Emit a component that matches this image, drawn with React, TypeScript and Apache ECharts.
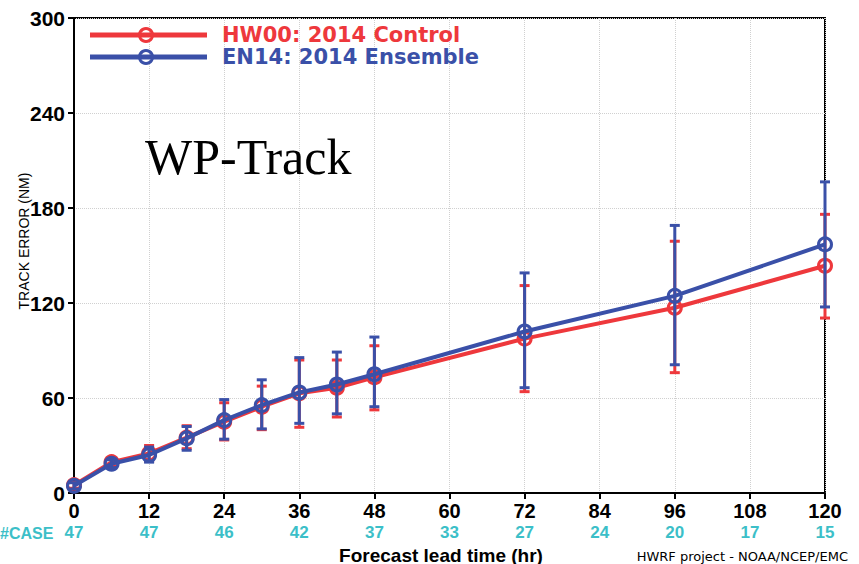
import React, { useEffect, useRef } from "react";
import * as echarts from "echarts";

const leadTimes = [0, 6, 12, 18, 24, 30, 36, 42, 48, 72, 96, 120];
const hw00Mean = [5, 19.5, 25, 35, 45, 54.5, 63, 66.5, 73, 97.5, 117, 143.5];
const hw00Low = [3, 17, 20, 28, 33.5, 40, 41.5, 48, 52.5, 64, 76, 110.5];
const hw00High = [7, 22, 30, 42.5, 57, 67.5, 84, 84, 93, 131, 159, 176];
const en14Mean = [4.5, 18.5, 24, 34.5, 46, 55.5, 63.5, 68.5, 75, 102, 124.5, 157];
const en14Low = [2.5, 16, 19.5, 27, 34, 40.5, 44, 50, 54.5, 66.5, 81, 117.5];
const en14High = [6.5, 21, 29, 42, 59, 71.5, 85.5, 89, 98.5, 139, 169, 196.5];
const caseTicks = [0, 12, 24, 36, 48, 60, 72, 84, 96, 108, 120];
const caseCounts = [47, 47, 46, 42, 37, 33, 27, 24, 20, 17, 15];
const seriesNames = ["HW00: 2014 Control", "EN14: 2014 Ensemble"];

const RED = "#ee383c";
const BLUE = "#3a50a8";
const CYAN = "#3cbfc8";
const SANS = "Liberation Sans, Arial, sans-serif";

function errorSeries(name: string, low: number[], high: number[], color: string, z: number) {
  return {
    type: "custom",
    name,
    z,
    xAxisIndex: 0,
    yAxisIndex: 0,
    data: leadTimes.map((t, i) => [t, low[i], high[i]]),
    encode: { x: 0, y: [1, 2] },
    renderItem: (params: any, api: any) => {
      const x = api.value(0);
      const top = api.coord([x, api.value(2)]);
      const bot = api.coord([x, api.value(1)]);
      const hw = 5;
      const st = { stroke: color, lineWidth: 3 };
      return {
        type: "group",
        children: [
          { type: "line", shape: { x1: top[0], y1: top[1], x2: bot[0], y2: bot[1] }, style: st },
          { type: "line", shape: { x1: top[0] - hw, y1: top[1], x2: top[0] + hw, y2: top[1] }, style: st },
          { type: "line", shape: { x1: bot[0] - hw, y1: bot[1], x2: bot[0] + hw, y2: bot[1] }, style: st },
        ],
      };
    },
  };
}

function lineSeries(name: string, mean: number[], color: string, z: number) {
  return {
    type: "line",
    name,
    z,
    xAxisIndex: 0,
    yAxisIndex: 0,
    data: leadTimes.map((t, i) => [t, mean[i]]),
    symbol: "circle",
    symbolSize: 13,
    showAllSymbol: true,
    lineStyle: { color, width: 4 },
    itemStyle: { color: "rgba(0,0,0,0)", borderColor: color, borderWidth: 3 },
  };
}

export default function App() {
  const ref = useRef<HTMLDivElement>(null);
  useEffect(() => {
    if (!ref.current) return;
    const chart = echarts.init(ref.current, null, { renderer: "svg" });
    const legendItem = (y: number, color: string, label: string) => [
      { type: "line", shape: { x1: 90, y1: y, x2: 207, y2: y }, style: { stroke: color, lineWidth: 5 }, z: 10 },
      { type: "circle", shape: { cx: 146, cy: y, r: 6.5 }, style: { fill: "rgba(0,0,0,0)", stroke: color, lineWidth: 3 }, z: 11 },
      {
        type: "text",
        x: 222,
        y,
        style: { text: label, fill: color, font: "bold 21px 'DejaVu Sans', sans-serif", verticalAlign: "middle" },
        z: 10,
      },
    ];
    chart.setOption({
      animation: false,
      backgroundColor: "#fff",
      grid: { left: 74, right: 34, top: 18, bottom: 71, show: true, borderColor: "#000", borderWidth: 2, backgroundColor: "transparent" },
      xAxis: [
        {
          type: "value",
          min: 0,
          max: 120,
          interval: 12,
          position: "bottom",
          axisLine: { show: true, onZero: false, lineStyle: { color: "#000", width: 2 } },
          axisTick: { show: true, length: 6, lineStyle: { color: "#000", width: 2 } },
          axisLabel: { color: "#000", fontFamily: SANS, fontWeight: "bold", fontSize: 20, margin: 8, showMinLabel: true, showMaxLabel: true },
          splitLine: { show: true, lineStyle: { color: "#d0d0d0", type: "dotted", width: 1 } },
        },
        {
          type: "value",
          min: 0,
          max: 120,
          interval: 12,
          position: "bottom",
          offset: 23,
          axisLine: { show: false },
          axisTick: { show: false },
          splitLine: { show: false },
          axisLabel: {
            color: CYAN,
            fontFamily: SANS,
            fontWeight: "bold",
            fontSize: 17,
            margin: 8,
            showMinLabel: true,
            showMaxLabel: true,
            formatter: (v: number) => {
              const i = caseTicks.indexOf(v);
              return i >= 0 ? String(caseCounts[i]) : "";
            },
          },
        },
      ],
      yAxis: {
        type: "value",
        min: 0,
        max: 300,
        interval: 60,
        axisLine: { show: true, onZero: false, lineStyle: { color: "#000", width: 2 } },
        axisTick: { show: true, length: 6, lineStyle: { color: "#000", width: 2 } },
        axisLabel: { color: "#000", fontFamily: SANS, fontWeight: "bold", fontSize: 21, margin: 9 },
        splitLine: { show: true, lineStyle: { color: "#d0d0d0", type: "dotted", width: 1 } },
      },
      graphic: [
        ...legendItem(35, RED, seriesNames[0]),
        ...legendItem(57, BLUE, seriesNames[1]),
        {
          type: "text",
          x: 145,
          y: 157,
          style: { text: "WP-Track", fill: "#000", font: "50px 'Liberation Serif', serif", verticalAlign: "middle" },
          z: 10,
        },
        {
          type: "text",
          x: 24,
          y: 241,
          rotation: Math.PI / 2,
          style: { text: "TRACK ERROR (NM)", fill: "#000", font: "14px " + SANS, align: "center", verticalAlign: "middle" },
          z: 10,
        },
        {
          type: "text",
          x: 0,
          y: 533,
          style: { text: "#CASE", fill: CYAN, font: "bold 16px " + SANS, verticalAlign: "middle" },
        },
        {
          type: "text",
          x: 441,
          y: 555,
          style: { text: "Forecast lead time (hr)", fill: "#000", font: "bold 19px " + SANS, align: "center", verticalAlign: "middle" },
        },
        {
          type: "text",
          x: 848,
          y: 556,
          style: { text: "HWRF project - NOAA/NCEP/EMC", fill: "#000", font: "13px 'DejaVu Sans', sans-serif", align: "right", verticalAlign: "middle" },
        },
      ],
      series: [
        errorSeries("hw00err", hw00Low, hw00High, RED, 2),
        lineSeries(seriesNames[0], hw00Mean, RED, 3),
        lineSeries(seriesNames[1], en14Mean, BLUE, 4),
        errorSeries("en14err", en14Low, en14High, BLUE, 5),
      ],
    });
    return () => chart.dispose();
  }, []);
  return <div ref={ref} style={{ position: "fixed", left: 0, top: 0, width: 859, height: 564 }} />;
}
